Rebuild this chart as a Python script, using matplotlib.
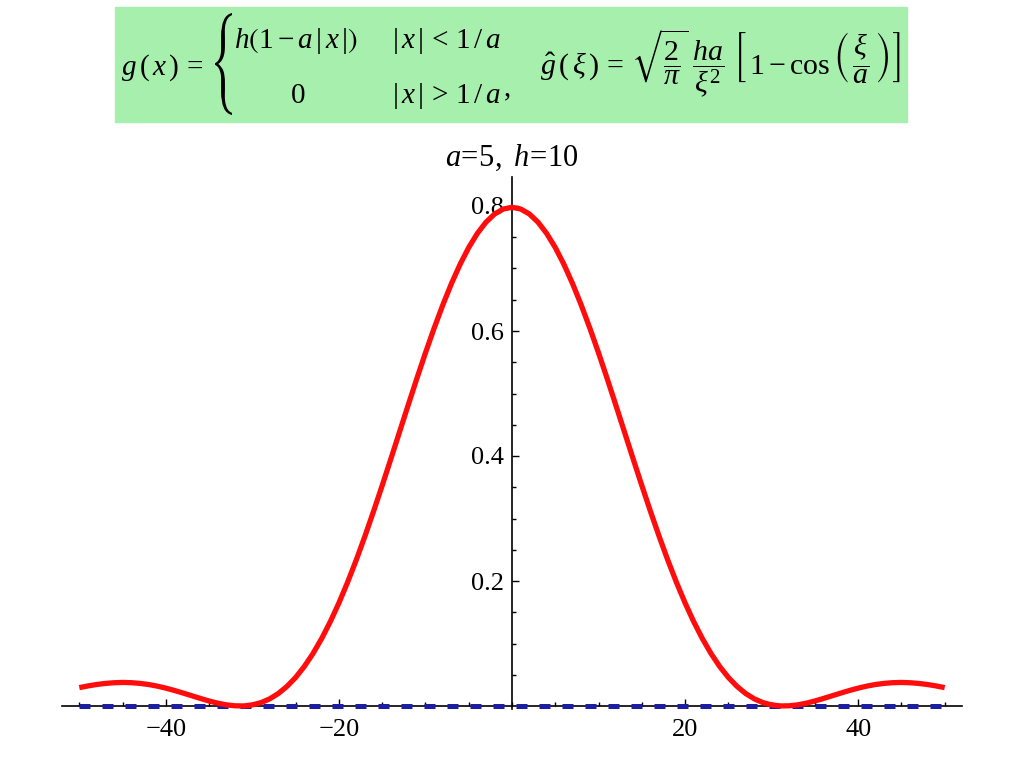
import os
import glob
import numpy as np
import matplotlib
matplotlib.use('Agg')
import matplotlib.pyplot as plt
from matplotlib.patches import Rectangle, PathPatch
from matplotlib.textpath import TextPath
from matplotlib.font_manager import FontProperties
from matplotlib.transforms import Affine2D, IdentityTransform
from matplotlib.ticker import MultipleLocator, FixedLocator

plt.rcParams['font.family'] = ['Liberation Serif', 'DejaVu Serif']
plt.rcParams['mathtext.fontset'] = 'custom'
plt.rcParams['mathtext.rm'] = 'Liberation Serif'
plt.rcParams['mathtext.it'] = 'Liberation Serif:italic'
plt.rcParams['mathtext.bf'] = 'Liberation Serif:bold'
plt.rcParams['mathtext.fallback'] = 'stix'

# valeurs (a=5, h=10), partie xi >= 0 (courbe paire)
xi_pos = list(range(0, 51))
g_pos = [0.7979, 0.7952, 0.7873, 0.7742, 0.7562, 0.7336, 0.7066, 0.6758, 0.6415, 0.6044,
         0.5650, 0.5237, 0.4813, 0.4383, 0.3953, 0.3528, 0.3114, 0.2715, 0.2335, 0.1979,
         0.1649, 0.1348, 0.1078, 0.0839, 0.0632, 0.0457, 0.0314, 0.0200, 0.0114, 0.0054,
         0.0018, 0.0001, 0.0003, 0.0018, 0.0045, 0.0080, 0.0121, 0.0164, 0.0207, 0.0248,
         0.0286, 0.0318, 0.0344, 0.0362, 0.0373, 0.0377, 0.0372, 0.0361, 0.0344, 0.0321,
         0.0294]
xi = [-v for v in xi_pos[:0:-1]] + xi_pos
g_hat = g_pos[:0:-1] + g_pos

x_base = [-50, 50]
g_base = [0, 0]

x_labels = [-40, -20, 20, 40]
y_labels = [0.2, 0.4, 0.6, 0.8]

W, H = 1024, 768
fig = plt.figure(figsize=(W / 100, H / 100), dpi=100)

def px(x, y):
    return x / W, 1 - y / H

# cadre vert avec les formules
fs = 21
fig.patches.append(Rectangle(px(115, 122), 792 / W, 115 / H, transform=fig.transFigure,
                             color='#a6efac', zorder=0))
fig.text(*px(121, 75), r'$g\,(\,x\,)\,=$', fontsize=fs, va='baseline', ha='left')

# grande accolade : glyphe "{" (taille 4 de STIX si dispo) étiré à la hauteur des deux lignes
stix_big = glob.glob(os.path.join(matplotlib.get_data_path(), 'fonts', 'ttf', 'STIXSiz*Four*Sym*'))
if stix_big:
    brace_prop = FontProperties(fname=stix_big[0])
    bx0, bx1 = 215, 232
else:
    brace_prop = FontProperties(family='Liberation Serif')
    bx0, bx1 = 219, 230
brace = TextPath((0, 0), '{', size=100, prop=brace_prop)
bb = brace.get_extents()
by0, by1 = 13, 115
tr = (Affine2D().translate(-bb.x0, -bb.y0)
      .scale((bx1 - bx0) / bb.width, (by1 - by0) / bb.height)
      .translate(bx0, H - by1))
fig.patches.append(PathPatch(tr.transform_path(brace), transform=IdentityTransform(),
                             facecolor='black', edgecolor='none', zorder=2))

fig.text(*px(234, 48), r'$h\left(1-a\,|\,x\,|\right)$', fontsize=fs, va='baseline', ha='left')
fig.text(*px(392, 48), r'$|\,x\,|\,<\,1\,/\,a$', fontsize=fs, va='baseline', ha='left')
fig.text(*px(298, 103), r'$0$', fontsize=fs, va='baseline', ha='center')
fig.text(*px(392, 103), r'$|\,x\,|\,>\,1\,/\,a$', fontsize=fs, va='baseline', ha='left')
fig.text(*px(504, 95), ',', fontsize=fs, va='baseline', ha='left')
fig.text(*px(540, 75),
         r'$\hat{g}\,(\,\xi\,)\,=\,\sqrt{\dfrac{2}{\pi}}\;\dfrac{ha}{\xi^{2}}\ '
         r'\left[\,1-\cos\left(\,\dfrac{\xi}{a}\,\right)\right]$',
         fontsize=21.5, va='baseline', ha='left')

# graphique
y_lo, y_hi = -0.012, 0.846
ax = fig.add_axes([62 / W, (H - 713.5) / H, 900 / W, (y_hi - y_lo) * 625 / H])
ax.plot(x_base, g_base, color='#1e1ea2', lw=3.6, dashes=(2.2, 2.4), zorder=3)
ax.plot(xi, g_hat, color='#ff0d0d', lw=3.8, zorder=4, solid_capstyle='butt')
ax.set_xlim(-52, 52)
ax.set_ylim(y_lo, y_hi)

ax.spines['left'].set_position(('data', 0))
ax.spines['left'].set_bounds(-0.004, y_hi)
ax.spines['bottom'].set_position(('data', 0))
ax.spines['top'].set_visible(False)
ax.spines['right'].set_visible(False)
for s in ('left', 'bottom'):
    ax.spines[s].set_linewidth(1.2)

ax.xaxis.set_major_locator(FixedLocator(x_labels))
ax.xaxis.set_minor_locator(MultipleLocator(5))
ax.yaxis.set_major_locator(FixedLocator(y_labels))
ax.yaxis.set_minor_locator(FixedLocator([0.05 * k for k in range(1, 17) if k % 4]))
ax.set_xticklabels(['\u2212' + str(-v) if v < 0 else str(v) for v in x_labels])
ax.set_yticklabels([str(v) for v in y_labels])
ax.tick_params(which='major', direction='in', length=5, width=1, labelsize=19)
ax.tick_params(which='minor', direction='in', length=3, width=1)
ax.tick_params(axis='x', pad=9)
ax.tick_params(axis='y', pad=6)
ax.set_facecolor('none')

fig.text(*px(512, 158), r'$a\!=\!5,\ h\!=\!10$', fontsize=22, ha='center', va='center')

fig.savefig('out.png', dpi=100)
